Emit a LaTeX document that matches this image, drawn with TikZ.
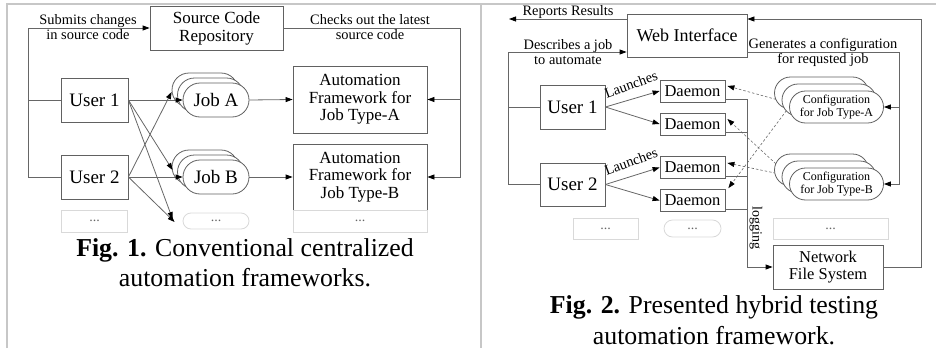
\documentclass[tikz,border=0pt]{standalone}
\usepackage{fontspec}
\setmainfont{Liberation Serif}
\usetikzlibrary{arrows.meta,shadows,backgrounds}
\definecolor{boxc}{gray}{0.38}
\definecolor{linec}{gray}{0.40}
\definecolor{lightc}{gray}{0.85}
\definecolor{framec}{gray}{0.78}
\begin{document}
\begin{tikzpicture}[x=1pt,y=-1pt,
  box/.style={draw=boxc,line width=0.8pt,fill=white,inner sep=1pt,align=center},
  lbox/.style={draw=lightc,line width=0.8pt,fill=white,inner sep=1pt,align=center,text=black!60,font=\fontsize{14}{14}\selectfont},
  pill/.style={box,rounded corners=#1},
  stackjob/.style={copy shadow={shadow xshift=-11pt,shadow yshift=10pt,draw=boxc,fill=white,line width=0.8pt},
                   copy shadow={shadow xshift=-5.5pt,shadow yshift=5pt,draw=boxc,fill=white,line width=0.8pt}},
  stackcfg/.style={copy shadow={shadow xshift=-15pt,shadow yshift=14pt,draw=boxc,fill=white,line width=0.8pt},
                   copy shadow={shadow xshift=-7.5pt,shadow yshift=7pt,draw=boxc,fill=white,line width=0.8pt}},
  ln/.style={draw=linec,line width=0.8pt},
  arr/.style={ln,-{Triangle[length=7pt,width=5pt,fill=black,color=black]}},
  darr/.style={draw=linec,line width=0.6pt,dash pattern=on 2.5pt off 2pt,-{Triangle[length=7pt,width=5pt,fill=black,color=black]}},
  lab/.style={align=center,inner sep=0pt,font=\fontsize{14.4}{15}\selectfont},
  captxt/.style={align=center,inner sep=0pt,font=\fontsize{25.8}{30.5}\selectfont},
  f17/.style={font=\fontsize{17}{17.5}\selectfont},
  f19/.style={font=\fontsize{19}{19}\selectfont}
]
\useasboundingbox (0,0) rectangle (936,348);
% frame
\draw[framec,line width=1.2pt] (7,348) -- (7,4) -- (936,4);
\draw[framec,line width=1.2pt] (481,4) -- (481,348);

% ---------------- Fig. 1 ----------------
\node[box,f17,minimum width=133,minimum height=44] (scr) at (216.5,28) {Source Code\\[0.5pt]Repository};
\node[box,f19,minimum width=67,minimum height=44] (u1) at (94.5,100) {User 1};
\node[box,f19,minimum width=67,minimum height=44] (u2) at (94.5,177) {User 2};
\node[lbox,minimum width=66,minimum height=22] (ud) at (94.5,221) {...};
\node[pill=17pt,stackjob,f19,minimum width=66,minimum height=34] (ja) at (216,100) {Job A};
\node[pill=17pt,stackjob,f19,minimum width=66,minimum height=34] (jb) at (216,177) {Job B};
\node[lbox,rounded corners=8pt,minimum width=66,minimum height=16] (jd) at (216,221) {...};
\node[box,f17,minimum width=134,minimum height=67] (afa) at (360,99.5) {Automation\\Framework for\\Job Type-A};
\node[box,f17,minimum width=134,minimum height=66] (afb) at (360,177) {Automation\\Framework for\\Job Type-B};
\node[lbox,minimum width=134,minimum height=22] (afd) at (360,221) {...};

\node[lab] (t1) at (88,27.5) {Submits changes\\in source code};
\node[lab] (t2) at (370,27.5) {Checks out the latest\\source code};

\coordinate (lx) at (28,28);
\coordinate (rx) at (460,28);
\draw[arr] (u2.west) -| (lx) -- (scr.west);
\draw[ln] (u1.west) -- (u1.west -| lx);
\draw[arr] (scr.east) -| (rx) |- (afb.east);
\draw[arr] (afa.east -| rx) -- (afa.east);

\draw[arr] (u1.east) -- (ja.west);
\draw[arr] (u1.east) -- ([shift={(-10,-7)}]jb.west);
\draw[arr] (u1.east) -- ([shift={(-10,-2)}]jd.west);
\draw[arr] (u2.east) -- ([shift={(-11,-8)}]ja.west);
\draw[arr] (u2.east) -- (jb.west);
\draw[arr] (u2.east) -- ([shift={(-8,1)}]jd.west);
\draw[arr] (ja.east) -- (afa.west);
\draw[arr] (jb.east) -- (afb.west);

\node[captxt] (c1) at (245,262.5) {\textbf{Fig. 1.} Conventional centralized\\automation frameworks.};

% ---------------- Fig. 2 ----------------
\node[box,minimum width=120,minimum height=43,font=\fontsize{18}{18}\selectfont] (wi) at (687,35.5) {Web Interface};
\node[box,f19,minimum width=65,minimum height=44] (v1) at (572.5,107) {User 1};
\node[box,f19,minimum width=65,minimum height=43] (v2) at (572.5,184.5) {User 2};
\node[lbox,minimum width=65,minimum height=21] (vd) at (605.5,228.5) {...};
\node[box,minimum width=65,minimum height=22,font=\fontsize{16.5}{16.5}\selectfont] (d1) at (692.5,91) {Daemon};
\node[box,minimum width=65,minimum height=22,font=\fontsize{16.5}{16.5}\selectfont] (d2) at (692.5,124) {Daemon};
\node[box,minimum width=65,minimum height=22,font=\fontsize{16.5}{16.5}\selectfont] (d3) at (692.5,167.5) {Daemon};
\node[box,minimum width=65,minimum height=22,font=\fontsize{16.5}{16.5}\selectfont] (d4) at (692.5,200.5) {Daemon};
\node[lbox,rounded corners=8.5pt,minimum width=57,minimum height=17] (dd) at (692.5,228.5) {...};
\node[pill=16pt,stackcfg,minimum width=94,minimum height=32,font=\fontsize{12}{13}\selectfont] (ca) at (836.5,107) {Configuration\\for Job Type-A};
\node[pill=16pt,stackcfg,minimum width=94,minimum height=32,font=\fontsize{12}{13}\selectfont] (cb) at (836.5,184) {Configuration\\for Job Type-B};
\node[lbox,minimum width=115,minimum height=21] (cd) at (830.5,228.5) {...};
\node[box,minimum width=110,minimum height=44,font=\fontsize{16.5}{17}\selectfont] (nfs) at (828,267) {Network\\File System};

\node[lab] (r1) at (568,12) {Reports Results};
\node[lab] (r2) at (568,52.5) {Describes a job\\to automate};
\node[lab] (r3) at (823,52.5) {Generates a configuration\\for requsted job};
\node[lab,rotate=20] (l1) at (631,84.5) {Launches};
\node[lab,rotate=20] (l2) at (631,161.5) {Launches};
\node[lab,rotate=-90,font=\fontsize{14}{14}\selectfont] (lg) at (756,228) {logging};

\coordinate (rrc) at (509,19);
\coordinate (rc) at (921,19);
\coordinate (rl) at (508,52);
\coordinate (rg) at (899,52);
\coordinate (bus) at (747,267);

\draw[arr] ([yshift=16.5pt]wi.west) -- (rrc);
\draw[arr] (nfs.east) -| (rc) -- ([yshift=16.5pt]wi.east);
\draw[arr] (v2.west) -| (rl) -- (rl -| wi.west);
\draw[ln] (v1.west) -- (v1.west -| rl);
\draw[arr] (wi.east |- rg) -- (rg) |- (cb.east);
\draw[arr] (ca.east -| rg) -- (ca.east);

\draw[arr] (v1.east) -- (d1.west);
\draw[arr] (v1.east) -- (d2.west);
\draw[arr] (v2.east) -- (d3.west);
\draw[arr] (v2.east) -- (d4.west);

\coordinate (o1) at ([yshift=3pt]d1.south east);
\coordinate (o2) at ([yshift=3pt]d2.south east);
\coordinate (o3) at ([yshift=3pt]d3.south east);
\coordinate (o4) at ([yshift=3pt]d4.south east);
\draw[arr] (o1) -| (bus) -- (nfs.west);
\draw[ln] (o2) -- (o2 -| bus);
\draw[ln] (o3) -- (o3 -| bus);
\draw[ln] (o4) -- (o4 -| bus);

\begin{pgfonlayer}{background}
\draw[darr] ([yshift=4pt]ca.west) -- ([shift={(2,-5)}]d1.east);
\draw[darr] (ca.west) -- ([shift={(3,-1)}]d4.north east);
\draw[darr] ([yshift=8pt]cb.west) -- ([shift={(2,-5)}]d2.east);
\draw[darr] ([yshift=8pt]cb.west) -- ([shift={(2,-4.5)}]d3.east);
\end{pgfonlayer}

\node[captxt] (c2) at (714,320) {\textbf{Fig. 2.} Presented hybrid testing\\automation framework.};
\end{tikzpicture}
\end{document}
